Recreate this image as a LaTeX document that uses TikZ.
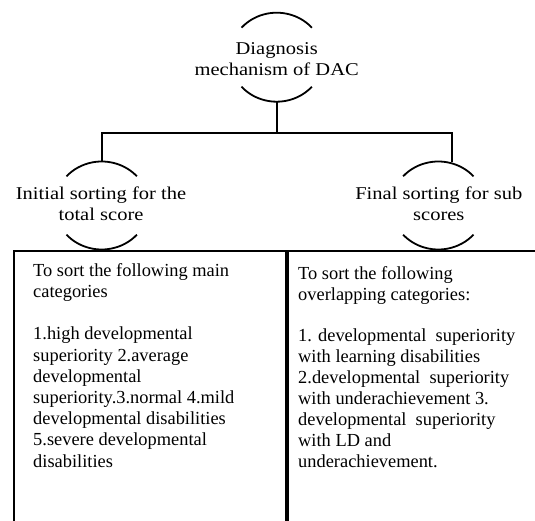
\documentclass[tikz,border=0pt]{standalone}
\usepackage{fontspec}
\setmainfont{Liberation Serif}
\newfontfamily\headfont[FakeStretch=1.14]{Liberation Serif}
\tikzset{
  headtxt/.style={align=center, inner sep=0pt, anchor=north,
    font=\headfont\fontsize{18}{21}\selectfont},
  boxtxt/.style={align=left, inner sep=0pt, anchor=north west,
    font=\fontsize{18.4}{21.2}\selectfont},
  boxtxtr/.style={boxtxt, font=\fontsize{18.4}{20.9}\selectfont},
  frame/.style={draw, line width=2pt, inner sep=0pt, anchor=north west},
  link/.style={line width=2pt},
  arcline/.style={line width=1.8pt}
}
\begin{document}
\begin{tikzpicture}[x=1pt,y=1pt]
\useasboundingbox (0,0) rectangle (535,-521);
\clip (0,0) rectangle (535,-521);

% ---------- top node ----------
\coordinate (c0) at (276.7,-57.2);
\draw[arcline] ([shift={(41.5:47 and 44.5)}]c0) arc[start angle=41.5, end angle=138.5, x radius=47, y radius=44.5];
\draw[arcline] ([shift={(221.5:47 and 44.5)}]c0) arc[start angle=221.5, end angle=318.5, x radius=47, y radius=44.5];
\node[headtxt] (top) at (276.7,{-54+14.7}) {\strut Diagnosis\\mechanism of DAC};

% ---------- left header ----------
\coordinate (c1) at (101.7,-205.5);
\draw[arcline] ([shift={(41.5:47 and 44)}]c1) arc[start angle=41.5, end angle=138.5, x radius=47, y radius=44];
\draw[arcline] ([shift={(221.5:47 and 44)}]c1) arc[start angle=221.5, end angle=318.5, x radius=47, y radius=44];
\node[headtxt] (lh) at (101,{-199+14.7}) {\strut Initial sorting for the\\total score};

% ---------- right header ----------
\coordinate (c2) at (438.3,-205.5);
\draw[arcline] ([shift={(41.5:47 and 44)}]c2) arc[start angle=41.5, end angle=138.5, x radius=47, y radius=44];
\draw[arcline] ([shift={(221.5:47 and 44)}]c2) arc[start angle=221.5, end angle=318.5, x radius=47, y radius=44];
\node[headtxt] (rh) at (438.8,{-199+14.7}) {\strut Final sorting for sub\\scores};

% ---------- connectors ----------
\coordinate (tb) at (276.7,-101.7);
\coordinate (j) at (276.7,-133);
\coordinate (lt) at (101.7,-161.5);
\coordinate (rt) at (451.7,-162.3);
\draw[link] (tb) -- (j);
\draw[link] (lt) |- (j) -| (rt);

% ---------- boxes ----------
\node[frame, minimum width=272pt, minimum height=300pt] (lbox) at (13,-250) {};
\node[frame, minimum width=260pt, minimum height=300pt] (rbox) at (286.5,-250) {};

\node[boxtxt] (ltxt) at (33,{-276+14.84}) {\strut To sort the following main\\
categories\\
\\
1.high developmental\\
superiority 2.average\\
developmental\\
superiority.3.normal 4.mild\\
developmental disabilities\\
5.severe developmental\\
disabilities};

\node[boxtxtr] (rtxt) at (298,{-279+14.63}) {\strut To sort the following\\
overlapping categories:\\
\\
1. developmental\ \ superiority\\
with learning disabilities\\
2.developmental\ \ superiority\\
with underachievement 3.\\
developmental\ \ superiority\\
with LD and\\
underachievement.};
\end{tikzpicture}
\end{document}
